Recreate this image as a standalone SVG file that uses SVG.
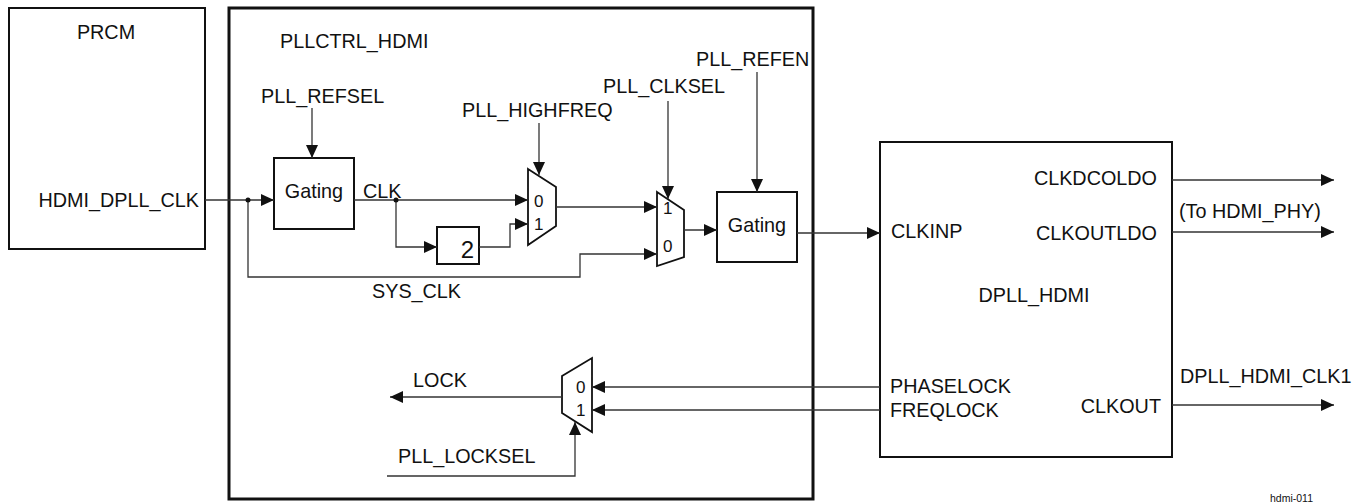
<svg xmlns="http://www.w3.org/2000/svg" width="1366" height="504" viewBox="0 0 1366 504">
<style>
text{font-family:"Liberation Sans",Arial,sans-serif;font-size:19.8px;fill:#111}
.box{fill:none;stroke:#111;stroke-width:2}
.thick{fill:none;stroke:#111;stroke-width:3}
.w{stroke:#333;stroke-width:1.3;fill:none}
.a{marker-end:url(#ah)}
.sm{font-size:17px}
.tiny{font-size:10.5px}
</style>
<defs>
<marker id="ah" markerUnits="userSpaceOnUse" markerWidth="15" markerHeight="13" refX="13" refY="6" orient="auto">
<path d="M0,0 L13,6 L0,12 z" fill="#111"/>
</marker>
</defs>
<rect width="1366" height="504" fill="#fff"/>
<g id="prcm">
<rect class="box" x="9" y="8" width="196" height="241"/>
<text x="106" y="39" text-anchor="middle">PRCM</text>
<text x="199" y="207" text-anchor="end">HDMI_DPLL_CLK</text>
</g>
<g id="pllctrl">
<rect class="thick" x="229" y="8" width="584" height="491"/>
<text x="280" y="48">PLLCTRL_HDMI</text>
<text x="261" y="103">PLL_REFSEL</text>
<text x="462" y="117">PLL_HIGHFREQ</text>
<text x="603" y="93">PLL_CLKSEL</text>
<text x="696" y="66">PLL_REFEN</text>
<text x="363" y="198">CLK</text>
<text x="372" y="298">SYS_CLK</text>
<text x="413" y="387">LOCK</text>
<text x="398" y="463">PLL_LOCKSEL</text>
</g>
<g id="gating1">
<rect class="box" x="274" y="158" width="80" height="71"/>
<text x="314" y="198" text-anchor="middle">Gating</text>
</g>
<g id="div2">
<rect class="box" x="437" y="227" width="42" height="37"/>
<text x="474" y="258" text-anchor="end" style="font-size:24px">2</text>
</g>
<g id="mux1">
<path class="box" d="M528,169 L556,187 L556,226 L528,245 Z" style="stroke-width:1.8"/>
<text class="sm" x="534" y="207">0</text>
<text class="sm" x="534" y="230">1</text>
</g>
<g id="mux2">
<path class="box" d="M657,192 L684,210 L684,257 L657,266 Z" style="stroke-width:1.8"/>
<text class="sm" x="663" y="214">1</text>
<text class="sm" x="663" y="252">0</text>
</g>
<g id="gating2">
<rect class="box" x="717" y="192" width="80" height="70"/>
<text x="757" y="232" text-anchor="middle">Gating</text>
</g>
<g id="dpll">
<rect class="box" x="880" y="142" width="292" height="315"/>
<text x="1157" y="185" text-anchor="end">CLKDCOLDO</text>
<text x="1157" y="240" text-anchor="end">CLKOUTLDO</text>
<text x="891" y="238">CLKINP</text>
<text x="1034" y="302" text-anchor="middle">DPLL_HDMI</text>
<text x="890" y="393">PHASELOCK</text>
<text x="890" y="417">FREQLOCK</text>
<text x="1161" y="413" text-anchor="end">CLKOUT</text>
</g>
<g id="lockmux">
<path class="box" d="M562,376 L592,358 L592,432 L562,413 Z" style="stroke-width:1.8"/>
<text class="sm" x="576" y="393">0</text>
<text class="sm" x="576" y="416">1</text>
</g>
<g id="labels">
<text x="1179" y="218">(To HDMI_PHY)</text>
<text x="1180" y="383">DPLL_HDMI_CLK1</text>
<text class="tiny" x="1270" y="502">hdmi-011</text>
</g>
<g id="connectors">
<path class="w a" d="M205,200 H274"/>
<path class="w a" d="M248,200 V277 H580 V254 H657"/>
<path class="w a" d="M312,108 V158"/>
<path class="w a" d="M354,200 H528"/>
<path class="w a" d="M396,200 V247 H437"/>
<path class="w a" d="M479,247 H510 V224 H528"/>
<path class="w a" d="M539,123 V175"/>
<path class="w a" d="M556,207 H657"/>
<path class="w a" d="M668,101 V199"/>
<path class="w a" d="M684,230 H717"/>
<path class="w a" d="M757,72 V192"/>
<path class="w a" d="M797,233 H880"/>
<path class="w a" d="M1172,180 H1334"/>
<path class="w a" d="M1172,232 H1334"/>
<path class="w a" d="M1172,405 H1334"/>
<path class="w a" d="M880,387 H592"/>
<path class="w a" d="M880,410 H592"/>
<path class="w a" d="M562,397 H390"/>
<path class="w a" d="M387,476 H575 V422"/>
<circle cx="248" cy="200" r="2.5" fill="#111"/>
<circle cx="396" cy="200" r="2.5" fill="#111"/>
</g>
</svg>
